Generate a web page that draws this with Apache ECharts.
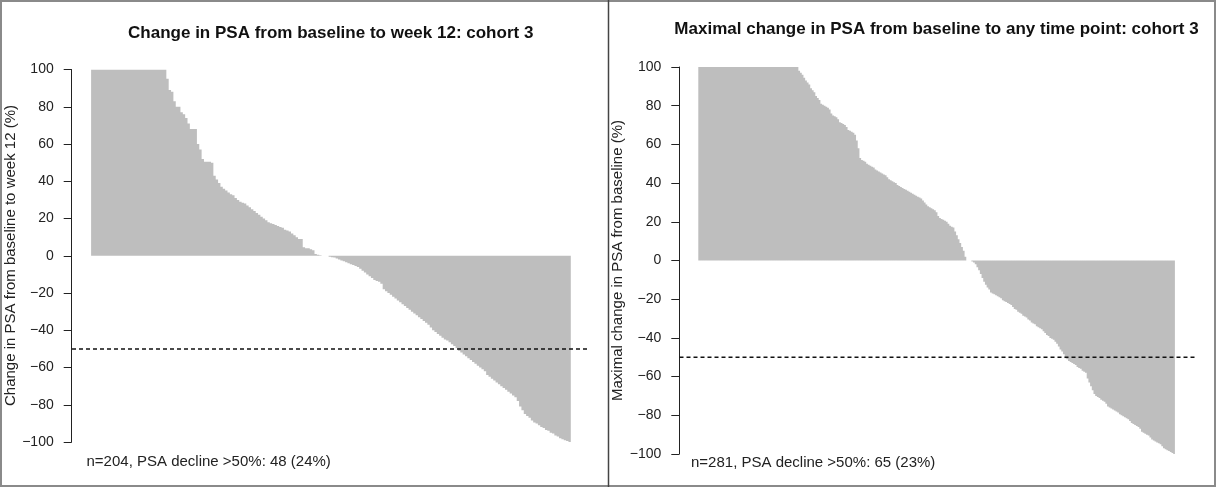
<!DOCTYPE html>
<html><head><meta charset="utf-8">
<script src="https://cdn.jsdelivr.net/npm/echarts@6/dist/echarts.min.js"></script>
<style>html,body{margin:0;padding:0;background:#fff}#c{width:1216px;height:487px}</style>
</head><body><div id="c"></div>
<script>
// Cohort 3: change in PSA from baseline to week 12 (%), sorted, capped at +100
const leftValues = [
100,100,100,100,100,100,100,100,100,100,100,100,100,100,100,100,
100,100,100,100,100,100,100,100,100,100,100,100,100,100,100,100,
95,89,88,83,80,80,77,76,74,71,68,68,68,60,57,52,50.5,50.5,50.5,50,
43,41,39,37,36,35,34,33,32.5,31,30,29,28.5,28,27,26,25,24,23,22,
21,20,19,18,17.5,17,16.5,16,15.5,15,14,13.5,13,12,11,10,9,9,4.5,4,
4,3.5,3,1,0.5,0.3,0,0,0,
-0.5,-0.8,-1,-1.5,-2,-2.5,-3,-3.5,-4,-4.5,
-5,-5.5,-6,-7,-8,-9,-10,-11,-12,-13,
-13.5,-14,-15,-18,-19,-20,-21,-22,-23,-24,
-25,-26,-27,-28,-29,-30,-31,-32,-33,-34,
-35,-36,-37,-38.5,-40,-41,-42,-43,-44,-45,
-45.5,-46.5,-47.5,-48.5,-49.5,-51,-52,-53,-54,-55,
-56,-57,-58,-59,-60,-61,-62,-64,-65,-66,
-67,-68,-69,-70,-71,-72,-73,-74,-75,-76,
-78,-81,-83,-85,-86,-87,-88.5,-89.5,-90,-91,
-92,-92.5,-93.5,-94,-95,-95.5,-96.5,-97,-98,-98.5,
-99,-99.5,-100
];
// Cohort 3: maximal change in PSA from baseline (%), sorted, capped at +100
const rightValues = [
100,100,100,100,100,100,100,100,100,100,100,100,100,100,100,100,100,100,100,100,
100,100,100,100,100,100,100,100,100,100,100,100,100,100,100,100,100,100,100,100,
100,100,100,100,100,100,100,100,100,100,100,100,100,100,100,100,100,100,100,
98,97,96,94.5,93,92,91,89,88,87,
85,84,83,81,80.5,80,79.5,79,78,76,
75,74.5,74,73,71.5,71,70.5,70,69,67.5,
67,66.5,66,65,62,58,53,52,51.5,51,
50,49.5,49,48.5,48,47,46.5,46,45.5,45,
44.5,44,43,42,41.5,41,40.5,40,39,38.5,
38,37.5,37,36.5,36,35.5,35,34.5,34,33.5,
33,32.5,32,31,30,29,28,27.5,27,26.5,
26,25,23,22,21.5,21,20.5,20,19,18,
17.5,17,15,13,11,9,7,5,2,0,
0,0,-0.5,-1,-2,-3.5,-5,-7,-9,-11,
-12.5,-14,-15,-16.5,-17,-17.5,-18,-18.5,-19,-19.5,
-20.5,-21,-21.5,-22,-22.5,-23,-24,-25,-25.5,-26.5,
-27,-27.5,-28.5,-29,-29.5,-30.5,-31,-32,-32.5,-33,
-34,-34.5,-35,-35.5,-36.5,-37.5,-38.5,-39,-40,-40.5,
-41,-42,-43,-44.5,-46,-47,-48.5,-50.5,-51,-52,
-52.5,-53,-53.5,-54,-55,-55.5,-56,-57,-57.5,-58,
-61,-63,-65,-67,-69,-70,-70.5,-71,-72,-72.5,
-73,-74,-75.5,-76,-76.5,-77,-77.5,-78,-78.5,-79.5,
-80,-80.5,-81,-81.5,-82,-83,-84,-84.5,-85,-85.5,
-86,-87,-88.5,-89,-89.5,-90,-90.5,-91.5,-92.5,-93,
-93.5,-94,-94.5,-95,-96,-97,-97.5,-98,-98.5,-99,
-99.5,-100
];
const yMin = -100, yMax = 100, yStep = 20;
const threshold = -50;
const leftTitle = 'Change in PSA from baseline to week 12: cohort 3';
const rightTitle = 'Maximal change in PSA from baseline to any time point: cohort 3';
const leftYName = 'Change in PSA from baseline to week 12 (%)';
const rightYName = 'Maximal change in PSA from baseline (%)';
const leftNote = 'n=204, PSA decline >50%: 48 (24%)';
const rightNote = 'n=281, PSA decline >50%: 65 (23%)';

const leftCats = leftValues.map((_, i) => i + 1);
const rightCats = rightValues.map((_, i) => i + 1);

const FONT = '"Liberation Sans", Arial, Helvetica, sans-serif';
const BAR = '#bebebe';

function visY(offset) {
  return {
    type: 'value', min: yMin, max: yMax, interval: yStep, offset: offset,
    axisLine: {show: true, lineStyle: {color: '#222', width: 1}},
    axisTick: {show: true, length: 8, lineStyle: {color: '#222', width: 1}},
    axisLabel: {color: '#222', fontSize: 14, fontFamily: FONT, margin: 18,
      formatter: v => String(v).replace('-', '\u2212')},
    splitLine: {show: false}
  };
}
function hidY() {
  return {type: 'value', min: yMin, max: yMax, show: false, splitLine: {show: false}};
}
function catX(cats, gi) {
  return {type: 'category', data: cats, gridIndex: gi, show: false, boundaryGap: true};
}
function unitX(gi) {
  return {type: 'value', min: 0, max: 1, gridIndex: gi, show: false, splitLine: {show: false}};
}

const chart = echarts.init(document.getElementById('c'), null, {renderer: 'canvas'});
chart.setOption({
  animation: false,
  backgroundColor: '#fff',
  title: [
    {text: leftTitle, left: 330.7, top: 24.5, textAlign: 'center', padding: 0,
     textStyle: {fontSize: 17, fontWeight: 'bold', color: '#111', fontFamily: FONT}},
    {text: rightTitle, left: 936.5, top: 20.5, textAlign: 'center', padding: 0,
     textStyle: {fontSize: 17, fontWeight: 'bold', color: '#111', fontFamily: FONT}},
    {text: leftNote, left: 86.5, top: 454, padding: 0,
     textStyle: {fontSize: 15, fontWeight: 'normal', color: '#222', fontFamily: FONT}},
    {text: rightNote, left: 691, top: 455.5, padding: 0,
     textStyle: {fontSize: 15, fontWeight: 'normal', color: '#222', fontFamily: FONT}}
  ],
  grid: [
    {left: 91.1, top: 69.5, width: 479.7, height: 372.5},
    {left: 72, top: 69.5, width: 515, height: 372.5},
    {left: 698.3, top: 67, width: 476.6, height: 387},
    {left: 679.5, top: 67, width: 516, height: 387}
  ],
  xAxis: [catX(leftCats, 0), unitX(1), catX(rightCats, 2), unitX(3)],
  yAxis: [
    Object.assign(visY(19.4), {gridIndex: 0}),
    Object.assign(hidY(), {gridIndex: 1}),
    Object.assign(visY(19), {gridIndex: 2}),
    Object.assign(hidY(), {gridIndex: 3})
  ],
  series: [
    {type: 'bar', xAxisIndex: 0, yAxisIndex: 0, data: leftValues, barCategoryGap: '0%',
     large: true, largeThreshold: 50, itemStyle: {color: BAR}, silent: true},
    {type: 'line', xAxisIndex: 1, yAxisIndex: 1, data: [[0, threshold], [1, threshold]],
     symbol: 'none', lineStyle: {color: '#111', width: 1.5, type: [4, 3]}, silent: true},
    {type: 'bar', xAxisIndex: 2, yAxisIndex: 2, data: rightValues, barCategoryGap: '0%',
     large: true, largeThreshold: 50, itemStyle: {color: BAR}, silent: true},
    {type: 'line', xAxisIndex: 3, yAxisIndex: 3, data: [[0, threshold], [1, threshold]],
     symbol: 'none', lineStyle: {color: '#111', width: 1.5, type: [4, 3]}, silent: true}
  ],
  graphic: [
    {type: 'rect', shape: {x: 1, y: 1, width: 1214, height: 485}, silent: true,
     style: {fill: 'none', stroke: '#8a8a8a', lineWidth: 2}},
    {type: 'line', shape: {x1: 608.5, y1: 0, x2: 608.5, y2: 487}, silent: true,
     style: {stroke: '#444', lineWidth: 1.5}},
    {type: 'text', x: 11, y: 255.5, rotation: Math.PI / 2, silent: true,
     style: {text: leftYName, align: 'center', verticalAlign: 'middle',
       font: '15px ' + FONT, fill: '#222'}},
    {type: 'text', x: 618, y: 260.5, rotation: Math.PI / 2, silent: true,
     style: {text: rightYName, align: 'center', verticalAlign: 'middle',
       font: '15px ' + FONT, fill: '#222'}}
  ]
});
</script></body></html>
